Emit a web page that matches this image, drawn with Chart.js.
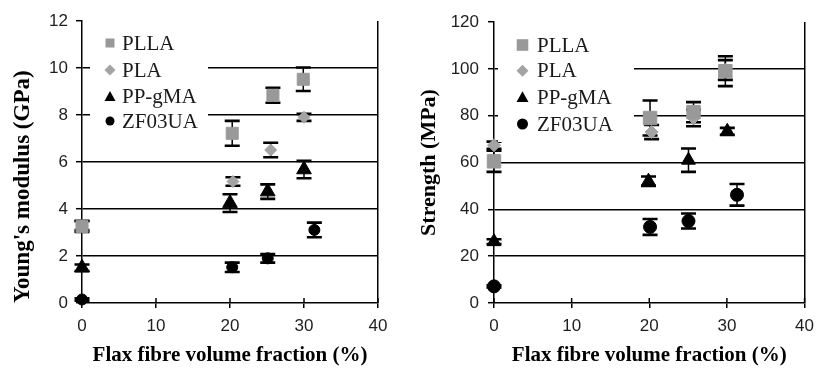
<!DOCTYPE html>
<html><head><meta charset="utf-8">
<script src="https://cdn.jsdelivr.net/npm/chart.js@4.4.0/dist/chart.umd.min.js"></script>
<style>
html,body{margin:0;padding:0;background:#fff;}
#wrap{position:relative;width:822px;height:370px;background:#fff;}
#c1{position:absolute;left:0;top:0;}
#c2{position:absolute;left:411px;top:0;}
</style></head><body>
<div id="wrap"><canvas id="c1" width="411" height="370"></canvas><canvas id="c2" width="411" height="370"></canvas></div>
<script>
// ---------- data ----------
const seriesNames = ['PLLA', 'PLA', 'PP-gMA', 'ZF03UA'];
const xTicks = [0, 10, 20, 30, 40];
const modTicks = [0, 2, 4, 6, 8, 10, 12];
const strTicks = [0, 20, 40, 60, 80, 100, 120];

// Young's modulus (GPa)
const modPLLA_x = [0, 20.3, 25.8, 29.9];
const modPLLA = [3.25, 7.22, 8.84, 9.52];
const modPLLA_err = [0.23, 0.53, 0.32, 0.5];
const modPLA_x = [0, 20.4, 25.5, 30.0];
const modPLA = [3.3, 5.17, 6.51, 7.9];
const modPLA_err = [0.2, 0.18, 0.31, 0.15];
const modPP_x = [0, 20.0, 25.1, 30.0];
const modPP = [1.5, 4.25, 4.74, 5.68];
const modPP_err = [0.14, 0.38, 0.31, 0.37];
const modZF_x = [0, 20.3, 25.1, 31.4];
const modZF = [0.15, 1.52, 1.9, 3.11];
const modZF_err = [0.05, 0.2, 0.18, 0.31];

// Strength (MPa)
const strPLLA_x = [0, 20.1, 25.7, 29.8];
const strPLLA = [60.5, 79, 81.5, 99];
const strPLLA_err = [4.5, 7.5, 4.3, 6.4];
const strPLA_x = [0, 20.3, 25.7, 29.8];
const strPLA = [67.4, 73, 79, 99.5];
const strPLA_err = [1.5, 3, 3.5, 4.2];
const strPP_x = [0, 19.9, 25.05, 30.05];
const strPP = [26.2, 52, 61, 73.3];
const strPP_err = [1, 2, 5, 1.5];
const strZF_x = [0, 20.1, 25.05, 31.3];
const strZF = [7.1, 32.5, 35, 46.2];
const strZF_err = [0.5, 3.4, 3.2, 4.6];

// ---------- helpers ----------
const styles = [
  {shape: 'rect', color: '#999999'},
  {shape: 'rectRot', color: '#a3a3a3'},
  {shape: 'triangle', color: '#000000'},
  {shape: 'circle', color: '#000000'}
];
function pts(xs, ys) { return xs.map((x, i) => ({x: x, y: ys[i]})); }

function makeDatasets(xsList, ysList, errList, radii) {
  return xsList.map((xs, i) => ({
    label: seriesNames[i],
    data: pts(xs, ysList[i]),
    errors: errList[i],
    showLine: false,
    pointStyle: styles[i].shape,
    pointRadius: radii[i],
    pointHoverRadius: radii[i],
    backgroundColor: styles[i].color,
    borderColor: styles[i].color,
    borderWidth: 1,
    clip: false
  }));
}

function drawShape(ctx, shape, x, y, s) {
  ctx.beginPath();
  if (shape === 'rect') {
    ctx.rect(x - s, y - s, 2 * s, 2 * s);
  } else if (shape === 'rectRot') {
    ctx.moveTo(x, y - s); ctx.lineTo(x + s, y); ctx.lineTo(x, y + s); ctx.lineTo(x - s, y); ctx.closePath();
  } else if (shape === 'triangle') {
    ctx.moveTo(x, y - s); ctx.lineTo(x + s * 1.0, y + s * 0.8); ctx.lineTo(x - s * 1.0, y + s * 0.8); ctx.closePath();
  } else {
    ctx.arc(x, y, s, 0, Math.PI * 2);
  }
  ctx.fill();
}

const errorBarPlugin = {
  id: 'errorBars',
  beforeDatasetsDraw(chart, args, opts) {
    const ctx = chart.ctx;
    const xs = chart.scales.x, ys = chart.scales.y;
    ctx.save();
    ctx.strokeStyle = '#000';
    chart.data.datasets.forEach((ds) => {
      ds.data.forEach((p, j) => {
        const e = ds.errors[j];
        const px = xs.getPixelForValue(p.x);
        const yt = ys.getPixelForValue(p.y + e);
        const yb = ys.getPixelForValue(p.y - e);
        ctx.lineWidth = 1.5;
        ctx.beginPath(); ctx.moveTo(px, yt); ctx.lineTo(px, yb); ctx.stroke();
        ctx.lineWidth = 2.6;
        ctx.beginPath();
        ctx.moveTo(px - opts.cap, yt); ctx.lineTo(px + opts.cap, yt);
        ctx.moveTo(px - opts.cap, yb); ctx.lineTo(px + opts.cap, yb);
        ctx.stroke();
      });
    });
    ctx.restore();
  }
};

const insetLegendPlugin = {
  id: 'insetLegend',
  beforeDatasetsDraw(chart, args, o) {
    const ctx = chart.ctx, a = chart.chartArea;
    ctx.save();
    ctx.fillStyle = '#fff';
    ctx.fillRect(a.left + o.box[0], a.top + o.box[1], o.box[2], o.box[3]);
    chart.data.datasets.forEach((ds, i) => {
      const y = a.top + o.rows[i];
      ctx.fillStyle = styles[i].color;
      drawShape(ctx, styles[i].shape, a.left + o.markerX, y, o.sizes[i]);
      ctx.fillStyle = '#1a1a1a';
      ctx.font = o.font;
      ctx.textBaseline = 'middle';
      ctx.textAlign = 'left';
      ctx.fillText(ds.label, a.left + o.textX, y + 1);
    });
    ctx.restore();
  }
};

const crossTickPlugin = {
  id: 'crossTicks',
  afterDatasetsDraw(chart) {
    const ctx = chart.ctx, xs = chart.scales.x, a = chart.chartArea;
    ctx.save();
    ctx.strokeStyle = '#000'; ctx.lineWidth = 1.5;
    xTicks.forEach(v => {
      const px = xs.getPixelForValue(v);
      ctx.beginPath(); ctx.moveTo(px, a.bottom); ctx.lineTo(px, a.bottom - 5); ctx.stroke();
    });
    ctx.restore();
  }
};

function makeChart(id, cfg) {
  return new Chart(document.getElementById(id), {
    type: 'scatter',
    data: {datasets: cfg.datasets},
    plugins: [errorBarPlugin, insetLegendPlugin, crossTickPlugin],
    options: {
      responsive: false,
      animation: false,
      events: [],
      layout: {padding: {left: 0, top: cfg.top, right: cfg.right, bottom: 0}},
      plugins: {
        legend: {display: false},
        tooltip: {enabled: false},
        errorBars: {cap: 7.5},
        insetLegend: cfg.legend
      },
      scales: {
        x: {
          type: 'linear', min: 0, max: 40,
          afterBuildTicks: s => { s.ticks = xTicks.map(v => ({value: v})); },
          afterFit: s => { s.height = 370 - cfg.bottom; },
          border: {display: true, color: '#000', width: 1.5},
          grid: {
            drawOnChartArea: true, drawTicks: true, tickLength: 5,
            color: c => (c.tick && c.tick.value === 40) ? '#000' : 'rgba(0,0,0,0)',
            lineWidth: 1.5, tickColor: '#000', tickWidth: 1.5
          },
          ticks: {color: '#1e1e1e', padding: 8, font: {family: 'Liberation Sans', size: 17}, maxRotation: 0},
          title: {display: true, text: 'Flax fibre volume fraction (%)', color: '#000',
                  font: {family: 'Liberation Serif', size: 21, weight: 'bold'}, padding: {top: 0, bottom: 2}}
        },
        y: {
          type: 'linear', min: 0, max: cfg.ymax,
          afterBuildTicks: s => { s.ticks = cfg.yTicks.map(v => ({value: v})); },
          afterFit: s => { s.width = cfg.left; },
          border: {display: true, color: '#000', width: 1.5},
          grid: {
            drawOnChartArea: true, drawTicks: true, tickLength: 6,
            color: c => (c.tick && (c.tick.value === cfg.ymax || c.tick.value === 0)) ? 'rgba(0,0,0,0)' : '#000',
            lineWidth: 1.4, tickColor: '#000', tickWidth: 1.5
          },
          ticks: {color: '#1e1e1e', padding: cfg.ypad, font: {family: 'Liberation Sans', size: 17}},
          title: {display: true, text: cfg.ytitle, color: '#000', align: cfg.talign,
                  font: {family: 'Liberation Serif', size: cfg.tsize, weight: 'bold'}, padding: {top: cfg.tpad, bottom: 0}}
        }
      }
    }
  });
}

makeChart('c1', {
  datasets: makeDatasets([modPLLA_x, modPLA_x, modPP_x, modZF_x], [modPLLA, modPLA, modPP, modZF],
                         [modPLLA_err, modPLA_err, modPP_err, modZF_err], [8.5, 6, 8.5, 5.5]),
  top: 21, right: 33, bottom: 303, left: 82, ymax: 12, yTicks: modTicks, ypad: 8,
  ytitle: "Young's modulus (GPa)", talign: 'start', tpad: 9, tsize: 23,
  legend: {box: [8, 4, 118, 114], markerX: 28, textX: 40, rows: [22, 49, 75.5, 100],
           sizes: [4.5, 5.5, 5.5, 4.5], font: '21px "Liberation Serif"'}
});

makeChart('c2', {
  datasets: makeDatasets([strPLLA_x, strPLA_x, strPP_x, strZF_x], [strPLLA, strPLA, strPP, strZF],
                         [strPLLA_err, strPLA_err, strPP_err, strZF_err], [9.5, 6.5, 8, 6.5]),
  top: 22, right: 12, bottom: 303, left: 83, ymax: 120, yTicks: strTicks, ypad: 9,
  ytitle: 'Strength (MPa)', talign: 'center', tpad: 5, tsize: 22,
  legend: {box: [4, 4, 136, 116], markerX: 28.5, textX: 43, rows: [23, 48.7, 75.3, 102],
           sizes: [5.8, 6, 6, 5.5], font: '21px "Liberation Serif"'}
});
</script>
</body></html>
